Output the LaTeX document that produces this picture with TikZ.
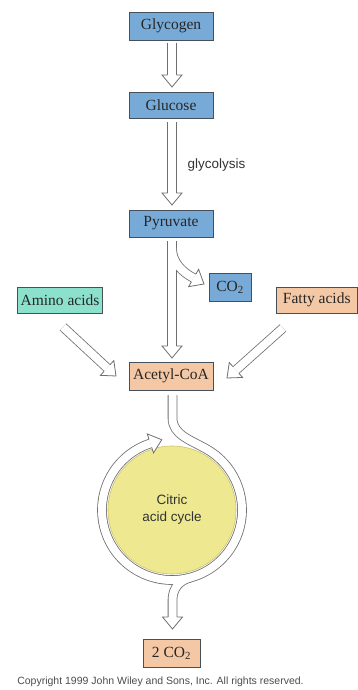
\documentclass[tikz,border=0pt]{standalone}
\usepackage{fontspec}
\setmainfont{Liberation Serif}
\newfontfamily\labelfont{Liberation Sans}
\definecolor{boxblue}{RGB}{120,170,215}
\definecolor{boxteal}{RGB}{140,225,205}
\definecolor{boxpeach}{RGB}{245,200,165}
\definecolor{cycleyellow}{RGB}{238,232,145}
\definecolor{cycleedge}{RGB}{205,195,110}
\definecolor{boxedge}{RGB}{70,80,90}
\definecolor{tubeedge}{RGB}{110,110,110}
\begin{document}
\begin{tikzpicture}[x=1pt,y=-1pt,
  box/.style={draw=boxedge, line width=0.8pt, inner sep=0pt, text=black!85,
              font=\fontsize{15.5}{17}\selectfont},
  bluebox/.style={box, fill=boxblue},
  tealbox/.style={box, fill=boxteal},
  peachbox/.style={box, fill=boxpeach},
  tubeout/.style={draw=tubeedge, line width=9.6pt},
  tubein/.style={draw=white, line width=8pt},
  headst/.style={fill=white, draw=tubeedge, line width=0.8pt, line join=miter},
  head/.pic={\path[headst] (-12,4.4) -- (-12,10) -- (0,0) -- (-12,-10) -- (-12,-4.4);}
]
\useasboundingbox (0,0) rectangle (358,690);

% boxes
\node[bluebox, minimum width=84pt, minimum height=28pt] (glycogen) at (171,26) {Glycogen};
\node[bluebox, minimum width=84pt, minimum height=26pt] (glucose) at (171,105.5) {Glucose};
\node[bluebox, minimum width=84pt, minimum height=27pt] (pyruvate) at (171,223.5) {Pyruvate};
\node[bluebox, minimum width=42pt, minimum height=28pt] (co2) at (230,287) {CO\textsubscript{2}};
\node[tealbox, minimum width=85pt, minimum height=26pt] (amino) at (60,300) {Amino acids};
\node[peachbox, minimum width=81.5pt, minimum height=26pt] (fatty) at (316.75,300) {Fatty acids};
\node[peachbox, minimum width=84pt, minimum height=28pt] (acetyl) at (171,376) {Acetyl-CoA};
\node[peachbox, minimum width=57pt, minimum height=28pt] (twoco2) at (171.5,653) {2 CO\textsubscript{2}};

% cycle
\node[circle, fill=cycleyellow, draw=cycleedge, line width=0.6pt, minimum size=128pt, inner sep=0pt,
      align=center, font=\labelfont\fontsize{13.5}{17}\selectfont, text=black!80] (cycle) at (172,510) {Citric\\acid cycle};

% labels
\node[anchor=west, font=\labelfont\fontsize{13.5}{16}\selectfont, text=black!80] (glyco) at (184,165) {glycolysis};
\node[font=\labelfont\fontsize{10.5}{12}\selectfont, text=black!70] (copy) at (160.5,682)
  {Copyright 1999 John Wiley and Sons, Inc. All rights reserved.};

% tubes
\foreach \st in {tubeout,tubein}{
  \draw[\st] (172,43) -- (172,75);
  \draw[\st] (172,122) -- (172,193);
  \draw[\st] (172,241) -- (172,346);
  \draw[\st] (172,248) .. controls (172,262) and (182,272) .. (193.6,278);
  \draw[\st] (63,327) -- (107.1,367.9);
  \draw[\st] (283,328) -- (236,370);
  \draw[\st] (172.5,395) -- (172.5,418) .. controls (172.5,435) and (191,440) .. (207,449.4)
             arc[start angle=-60, end angle=252, radius=70];
  \draw[\st] (190,577.6) .. controls (180,580.3) and (172.5,588) .. (172.5,600) -- (172.5,617);
}

% arrow heads
\pic[rotate=-90] at (172,87) {head};
\pic[rotate=-90] at (172,205) {head};
\pic[rotate=-90] at (172,358) {head};
\pic[rotate=-30] at (204,284) {head};
\pic[rotate=-42.2] at (116,376) {head};
\pic[rotate=-138.2] at (227,378) {head};
\pic[rotate=18] at (161.8,439.7) {head};
\pic[rotate=-90] at (172.5,629) {head};
\end{tikzpicture}
\end{document}
